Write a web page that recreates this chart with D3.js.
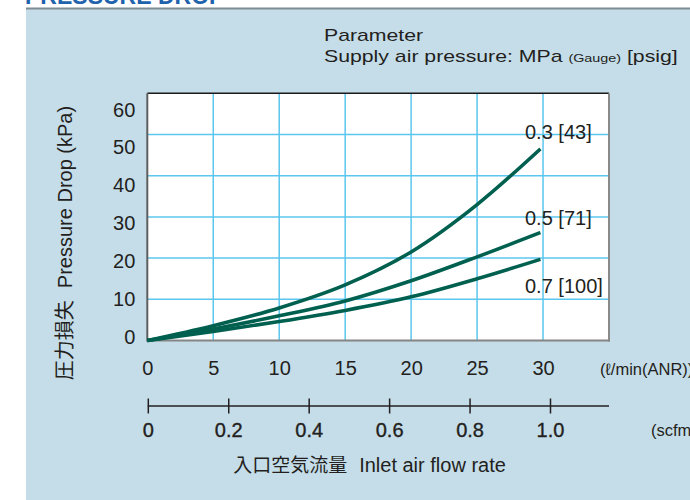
<!DOCTYPE html>
<html>
<head>
<meta charset="utf-8">
<script src="https://cdn.jsdelivr.net/npm/d3@7"></script>
<style>
  html, body { margin: 0; padding: 0; background: #ffffff; }
  svg { display: block; }
  text { font-family: "Liberation Sans", Arial, "Noto Sans CJK JP", sans-serif; fill: #231f20; }
</style>
</head>
<body>
<div id="chart"></div>
<script>
// Inlet flow (l/min ANR) at which each curve is sampled
const flow = [0, 5, 10, 15, 20, 25, 29.8];
// Pressure drop (kPa) for each supply pressure
const drop03 = [0, 3.6, 7.9, 13.5, 21.5, 33.0, 46.5];
const drop05 = [0, 2.8, 6.0, 9.6, 14.5, 20.3, 26.2];
const drop07 = [0, 2.2, 4.6, 7.3, 10.6, 15.0, 19.7];
const seriesLabels = ["0.3 [43]", "0.5 [71]", "0.7 [100]"];
// Axis ticks
const flowTicks = [0, 5, 10, 15, 20, 25, 30];
const dropTicks = [0, 10, 20, 30, 40, 50, 60];
const scfmTicks = [0, 0.2, 0.4, 0.6, 0.8, 1.0];

const W = 690, H = 500;
const svg = d3.select("#chart").append("svg").attr("width", W).attr("height", H);

// Heading (runs off the top of the page)
svg.append("text").attr("x", 25).attr("y", 4)
  .style("font-size", "23px").style("font-weight", "bold").style("fill", "#1f63ad")
  .text("PRESSURE DROP");

// Panel background
svg.append("rect").attr("x", 26).attr("y", 8.5).attr("width", W - 26).attr("height", H)
  .attr("fill", "#c5dde9");
svg.append("line").attr("x1", 26).attr("x2", W).attr("y1", 8.5).attr("y2", 8.5)
  .attr("stroke", "#7f8c93").attr("stroke-width", 2);

// Scales
const x = d3.scaleLinear().domain([0, 35]).range([147.3, 609]);
const y = d3.scaleLinear().domain([0, 60]).range([340.5, 93.3]);
const yLab = d3.scaleLinear().domain([0, 60]).range([337, 109.7]);
const xs = d3.scaleLinear().domain([0, 1]).range([147.8, 550]);

// Plot area
svg.append("rect").attr("x", x(0)).attr("y", y(60))
  .attr("width", x(35) - x(0)).attr("height", y(0) - y(60)).attr("fill", "#ffffff");

const grid = svg.append("g").attr("stroke", "#5bc6ee").attr("stroke-width", 1.5);
grid.selectAll(".v").data(flowTicks.filter(d => d > 0)).join("line")
  .attr("x1", d => x(d)).attr("x2", d => x(d)).attr("y1", y(60)).attr("y2", y(0));
grid.selectAll(".h").data(dropTicks.filter(d => d > 0 && d < 60)).join("line")
  .attr("y1", d => y(d)).attr("y2", d => y(d)).attr("x1", x(0)).attr("x2", x(35));

// Frame
svg.append("line").attr("x1", x(0)).attr("x2", x(35)).attr("y1", y(60)).attr("y2", y(60))
  .attr("stroke", "#1a1a1a").attr("stroke-width", 1.5);
svg.append("line").attr("x1", x(35)).attr("x2", x(35)).attr("y1", y(60)).attr("y2", y(0) + 1)
  .attr("stroke", "#8a8a8a").attr("stroke-width", 2);
svg.append("line").attr("x1", x(0)).attr("x2", x(35) + 1).attr("y1", y(0)).attr("y2", y(0))
  .attr("stroke", "#858585").attr("stroke-width", 2);
svg.append("line").attr("x1", x(0)).attr("x2", x(0)).attr("y1", y(60)).attr("y2", y(0) + 1)
  .attr("stroke", "#5e5e5e").attr("stroke-width", 2);

// Curves
const line = d3.line().x((d, i) => x(flow[i])).y(d => y(d)).curve(d3.curveMonotoneX);
[drop03, drop05, drop07].forEach(s => {
  svg.append("path").datum(s).attr("d", line)
    .attr("fill", "none").attr("stroke", "#00604f").attr("stroke-width", 3.6)
    .attr("stroke-linecap", "butt");
});

// Curve labels
const labelBase = [139.3, 225, 292.7];
seriesLabels.forEach((t, i) => {
  svg.append("text").attr("x", 525).attr("y", labelBase[i])
    .style("font-size", "20px").text(t);
});

// Y axis tick labels
const yAxis = svg.append("g").attr("transform", "translate(147.3,0)")
  .call(d3.axisLeft(yLab).tickValues(dropTicks).tickSize(0).tickPadding(12).tickFormat(d3.format("d")));
yAxis.select(".domain").remove();
yAxis.selectAll("text").style("font-size", "20px").style("font-family", null).attr("fill", null);

// X axis tick labels (l/min)
const xAxis = svg.append("g").attr("transform", `translate(0,${y(0)})`)
  .call(d3.axisBottom(x).tickValues(flowTicks).tickSize(0).tickPadding(20.5).tickFormat(d3.format("d")));
xAxis.select(".domain").remove();
xAxis.selectAll("text").style("font-size", "20px").style("font-family", null).attr("fill", null);

svg.append("text").attr("x", 600).attr("y", 374.5).style("font-size", "16.5px")
  .text("(ℓ/min(ANR))");

// Secondary flow axis (scfm)
svg.append("line").attr("x1", xs(0)).attr("x2", x(35)).attr("y1", 406).attr("y2", 406)
  .attr("stroke", "#231f20").attr("stroke-width", 1.5);
const sAxis = svg.append("g").attr("transform", "translate(0,398.5)")
  .call(d3.axisBottom(xs).tickValues(scfmTicks).tickSizeInner(15).tickSizeOuter(0).tickPadding(9.5)
    .tickFormat(d => d === 0 ? "0" : d3.format(".1f")(d)));
sAxis.select(".domain").remove();
sAxis.selectAll("line").attr("stroke", "#231f20").attr("stroke-width", 1.5);
sAxis.selectAll("text").style("font-size", "20px").style("font-family", null).attr("fill", null)
  .style("stroke", "#231f20").style("stroke-width", "0.35px");

svg.append("text").attr("x", 651).attr("y", 436).style("font-size", "16.5px").text("(scfm)");

// Legend heading
const head = svg.append("g").attr("transform", "translate(324,0) scale(1.25,1)");
head.append("text").attr("x", 0).attr("y", 41).style("font-size", "17px").text("Parameter");
const sup = head.append("text").attr("x", 0).attr("y", 61.7).style("font-size", "17px");
sup.append("tspan").text("Supply air pressure: MPa ");
sup.append("tspan").style("font-size", "11.5px").text("(Gauge)");
sup.append("tspan").text(" [psig]");

// Axis titles
const yt = svg.append("text").attr("transform", "translate(72,243) rotate(-90)")
  .attr("text-anchor", "middle").style("font-size", "20px");
yt.append("tspan").text("圧力損失");
yt.append("tspan").attr("dx", 12).text("Pressure Drop (kPa)");

const xt = svg.append("text").attr("x", 369.5).attr("y", 472.3)
  .attr("text-anchor", "middle").style("font-size", "20px");
xt.append("tspan").style("font-size", "19px").text("入口空気流量");
xt.append("tspan").attr("dx", 12).text("Inlet air flow rate");
</script>
</body>
</html>
